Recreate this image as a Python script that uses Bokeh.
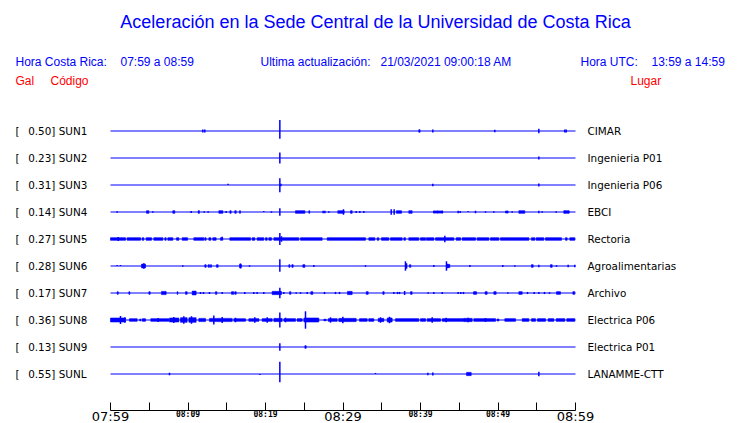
from bokeh.plotting import figure
from bokeh.models import Range1d, LinearAxis, FixedTicker
from bokeh.core.properties import value
from bokeh.embed import file_html
from bokeh.resources import INLINE

# ---------------- data ----------------
TITLE = "Aceleración en la Sede Central de la Universidad de Costa Rica"
codes = ["SUN1", "SUN2", "SUN3", "SUN4", "SUN5", "SUN6", "SUN7", "SUN8", "SUN9", "SUNL"]
gals = [0.50, 0.23, 0.31, 0.14, 0.27, 0.28, 0.17, 0.36, 0.13, 0.55]
places = ["CIMAR", "Ingenieria P01", "Ingenieria P06", "EBCI", "Rectoria",
          "Agroalimentarias", "Archivo", "Electrica P06", "Electrica P01", "LANAMME-CTT"]

window = [0, 60]  # minutes after 07:59
axis_ticks = [0, 5, 10, 15, 20, 25, 30, 35, 40, 45, 50, 55, 60]
big_tick_min = [0, 30, 60]
big_tick_lab = ["07:59", "08:29", "08:59"]
small_tick_min = [10, 20, 40, 50]
small_tick_lab = ["08:09", "08:19", "08:39", "08:49"]

# spikes: (minute, amplitude up, amplitude down) in trace units
spikes_SUN1 = [(11.91, .06, .06), (12.17, .06, .06), (21.85, .41, .285), (41.59, .06, .06),
               (49.59, .05, .05), (55.27, .085, .085), (58.62, .06, .06), (58.8, .06, .06)]
spikes_SUN2 = [(21.85, .2, .2), (55.27, .06, .06)]
spikes_SUN3 = [(15.18, .05, 0), (21.85, .25, .27), (21.98, .05, .05), (41.59, .05, .05), (55.27, .06, .06)]
spikes_SUN4 = [(0.86, .03, .03), (5.46, .03, .03), (10.41, .04, .04), (12.09, .03, .03), (12.60, .03, .03),
               (14.92, .04, .04), (19.78, .04, 0), (20.77, .03, .03), (21.85, .137, .137), (27.44, .05, .05),
               (27.66, .05, .05), (28.17, .03, .03), (30.06, .1, .1), (31.70, .04, .04), (32.17, .04, .04),
               (32.69, .04, .04), (36.22, .1, .1), (36.6, .1, .1), (41.72, .05, .05), (42.2, .05, .05),
               (42.8, .05, .05), (44.86, .05, .05), (45.12, .04, .04), (46.15, .04, 0), (47.10, .05, .05),
               (48.39, .03, .03), (49.46, .03, .03), (51.83, .03, .03), (55.27, .05, .05), (55.7, .03, .03),
               (57.51, .03, .03), (58.62, .05, .05), (59.14, .05, .05)]
spikes_SUN5 = [(1.0, .07, .07), (14.41, .08, 0), (21.85, .22, .22), (22.06, .1, .1), (43.14, .12, .12)]
spikes_SUN6 = [(0.86, .04, 0), (1.29, .04, 0), (4.3, .1, .1), (9.33, .03, .03), (16.77, .09, .09),
               (17.94, .03, .03), (21.85, .248, .21), (26.24, .04, .04), (32.90, .03, .03), (38.06, .174, .174),
               (38.2, .1, .1), (41.72, .04, .04), (43.35, .174, .174), (43.5, .08, .08), (46.37, .04, .04),
               (50.62, .04, .04), (52.17, .03, .03), (55.27, .05, .05), (57.55, .03, .03), (59.05, .05, .05),
               (59.91, .05, .05)]
spikes_SUN7 = [(11.61, .04, .04), (12.0, .04, .04), (12.77, .04, .04), (14.41, .04, .04), (17.33, .04, .04),
               (18.49, .04, .04), (18.92, .04, .04), (19.78, .04, .04), (21.85, .196, .196), (22.37, .04, .04),
               (23.96, .03, .03), (24.52, .03, .03), (25.38, .04, .04), (27.61, .04, .04), (29.03, .04, .04),
               (29.55, .04, .04), (36.56, .04, .04), (37.03, .04, .04), (37.29, .04, .04), (37.95, .074, .074),
               (40.99, .03, .03), (41.72, .04, .04), (42.80, .04, .04), (44.86, .04, .04), (45.20, .04, .04),
               (45.55, .04, .04), (51.27, .03, .03), (53.81, .04, .04), (54.67, .04, .04), (55.27, .04, .04),
               (56.0, .04, .04), (56.65, .03, .03)]
spikes_SUN8 = [(1.29, .148, .148), (1.85, .1, .1), (6.15, .074, .074), (8.17, .11, .11), (9.46, .137, .137),
               (10.45, .137, .137), (13.33, .17, .17), (14.41, .11, .11), (16.13, .085, .085), (18.62, .1, .1),
               (20.22, .1, .1), (21.85, .278, .278), (22.58, .085, .085), (25.16, .322, .322), (28.39, .1, .1),
               (29.98, .12, .12), (34.84, .1, .1), (36.0, .12, .12), (41.51, .1, .1), (43.31, .085, .085),
               (46.15, .085, .085), (48.39, .074, .074)]
spikes_SUN9 = [(21.85, .137, .137)]
spikes_SUNL = [(7.61, .05, .05), (19.27, 0, .04), (21.85, .456, .307), (34.19, .04, 0), (40.95, .05, .05),
               (41.59, .06, .06), (55.27, .085, .085)]

# bursts: (start minute, end minute, amplitude) in trace units
bursts_SUN1 = [(39.78, 39.95, .05)]
bursts_SUN2 = []
bursts_SUN3 = []
bursts_SUN4 = [(4.65, 4.95, .05), (8.04, 8.30, .05), (11.31, 11.48, .05), (13.98, 14.49, .05), (15.40, 15.57, .05),
               (16.04, 16.22, .05), (16.65, 16.77, .05), (23.87, 25.08, .05), (25.59, 25.7, .05), (29.33, 30.15, .05),
               (30.97, 31.18, .05), (36.9, 37.55, .05), (38.49, 38.92, .05), (41.72, 42.88, .04),
               (50.97, 51.31, .04), (52.69, 53.46, .05), (58.49, 59.14, .05)]
bursts_SUN5 = [(0, 1.94, .05), (2.15, 3.87, .05), (4.09, 4.30, .05), (4.6, 5.29, .05), (5.59, 6.75, .05),
               (7.01, 7.18, .05), (7.40, 8.04, .05), (8.52, 8.82, .05), (9.25, 9.94, .05), (10.75, 12.04, .05),
               (12.17, 12.34, .05), (12.69, 12.95, .05), (13.2, 13.63, .05), (14.19, 14.49, .05),
               (15.40, 18.06, .05), (18.28, 18.62, .05), (18.92, 19.78, .05), (20.0, 20.22, .05),
               (20.43, 20.77, .05), (21.08, 24.30, .05), (24.52, 27.31, .05), (27.96, 32.90, .05),
               (33.33, 34.11, .05), (34.41, 34.62, .05), (34.97, 35.91, .05), (36.13, 37.63, .05),
               (37.85, 38.06, .05), (38.49, 39.78, .05), (40.0, 40.65, .05), (40.77, 41.72, .05),
               (41.94, 44.30, .05), (44.60, 45.16, .05), (45.38, 47.10, .05), (47.31, 48.82, .05),
               (49.03, 50.11, .05), (50.32, 53.98, .05), (54.32, 54.75, .05), (54.92, 55.91, .05),
               (56.13, 58.19, .05), (58.71, 58.92, .05), (59.27, 59.91, .05)]
bursts_SUN6 = [(4.0, 4.52, .07), (12.17, 12.34, .05), (12.6, 12.77, .05), (12.9, 13.03, .05), (13.68, 13.89, .05),
               (16.65, 16.9, .06), (23.01, 23.15, .05), (23.4, 23.57, .05), (24.82, 25.08, .05),
               (38.58, 38.75, .05), (43.5, 43.78, .06), (54.32, 54.54, .05), (56.77, 56.99, .05)]
bursts_SUN7 = [(0.86, 1.0, .05), (2.37, 2.5, .05), (4.95, 5.12, .05), (6.58, 7.18, .06), (8.6, 8.7, .05),
               (9.68, 9.89, .05), (10.54, 11.05, .07), (13.55, 13.72, .05), (15.61, 15.9, .05), (16.04, 16.22, .05),
               (20.86, 22.06, .06), (23.1, 23.27, .05), (25.85, 26.11, .05), (30.58, 31.18, .06), (33.0, 33.25, .05),
               (35.14, 35.31, .05), (38.71, 38.92, .05), (46.84, 47.23, .05), (48.34, 48.6, .05),
               (49.46, 49.76, .05), (52.69, 53.12, .05), (57.55, 58.06, .05), (59.66, 59.91, .05)]
bursts_SUN8 = [(0, 1.94, .074), (2.45, 3.44, .05), (3.78, 3.9, .04), (4.09, 4.52, .05), (5.2, 7.53, .05),
               (7.61, 8.82, .074), (9.03, 9.89, .085), (10.11, 11.05, .085), (11.40, 12.26, .06),
               (12.77, 13.98, .06), (13.98, 15.70, .06), (15.91, 17.42, .05), (17.85, 19.14, .05),
               (19.57, 20.86, .05), (21.08, 22.15, .06), (22.37, 23.87, .05), (24.09, 24.73, .05),
               (24.95, 26.88, .074), (27.53, 27.83, .03), (28.09, 29.25, .05), (29.46, 31.70, .06),
               (32.13, 33.12, .05), (33.33, 33.98, .05), (34.54, 35.27, .06), (35.70, 36.34, .074),
               (36.77, 39.78, .05), (40.0, 40.65, .05), (40.86, 42.58, .05), (42.80, 45.59, .05),
               (45.59, 46.67, .06), (46.88, 49.68, .05), (49.89, 50.11, .04), (50.88, 52.26, .05),
               (53.12, 53.98, .05), (54.32, 54.84, .05), (55.10, 56.13, .05), (56.47, 57.20, .05),
               (57.51, 58.62, .05), (58.88, 59.91, .05)]
bursts_SUN9 = [(25.08, 25.25, .05)]
bursts_SUNL = [(45.94, 46.54, .06)]

spikes_all = [spikes_SUN1, spikes_SUN2, spikes_SUN3, spikes_SUN4, spikes_SUN5,
              spikes_SUN6, spikes_SUN7, spikes_SUN8, spikes_SUN9, spikes_SUNL]
bursts_all = [bursts_SUN1, bursts_SUN2, bursts_SUN3, bursts_SUN4, bursts_SUN5,
              bursts_SUN6, bursts_SUN7, bursts_SUN8, bursts_SUN9, bursts_SUNL]

# ---------------- layout (page pixels) ----------------
W, H = 740, 423
PX_PER_MIN = 7.75
X0_PAGE = 110.0
ROW0_PAGE = 130.5
ROW_PX = 27.0
AXIS_PAGE_Y = 409.5


def mx(page_x):
    return (page_x - X0_PAGE) / PX_PER_MIN


def ry(page_y):
    return (page_y - ROW0_PAGE) / ROW_PX


BLUE = "#0000ff"
RED = "#ff0000"

p = figure(width=W, height=H, output_backend="svg", toolbar_location=None, title=None,
           x_axis_type=None, y_axis_type=None, min_border=0,
           x_range=Range1d(mx(0), mx(W)),
           y_range=Range1d(ry(H), ry(0)))
p.outline_line_color = None
p.background_fill_color = "white"
p.border_fill_color = "white"

rows = list(range(len(codes)))

# baselines
p.segment(x0=[window[0]] * len(rows), x1=[window[1]] * len(rows), y0=rows, y1=rows,
          line_color=BLUE, line_width=1.1)

# spikes and bursts
sx, sy0, sy1 = [], [], []
ql, qr, qt, qb = [], [], [], []
for r, (sp, bu) in enumerate(zip(spikes_all, bursts_all)):
    for t, up, dn in sp:
        sx.append(t); sy0.append(r - up); sy1.append(r + dn)
    for t0, t1, a in bu:
        ql.append(t0); qr.append(t1); qt.append(r - a); qb.append(r + a)
p.quad(left=ql, right=qr, top=qt, bottom=qb, fill_color=BLUE, line_color=BLUE, line_width=0.6)
p.segment(x0=sx, x1=sx, y0=sy0, y1=sy1, line_color=BLUE, line_width=1.5)

# title and header (y = visual middle of the capitals)
p.text(x=[mx(375)], y=[ry(21.5)], text=[TITLE], text_font=value("Liberation Sans"),
       text_font_size="18px", text_color=BLUE, text_align="center", text_baseline="middle")
hdr_x = [15, 120, 260, 380, 580, 651]
hdr_t = ["Hora Costa Rica:", "07:59 a 08:59", "Ultima actualización:", "21/03/2021 09:00:18 AM",
         "Hora UTC:", "13:59 a 14:59"]
p.text(x=[mx(v) for v in hdr_x], y=[ry(61)] * len(hdr_x), text=hdr_t,
       text_font=value("Liberation Sans"), text_font_size="12px", text_color=BLUE,
       text_align="left", text_baseline="middle")
red_x = [15, 50, 630]
red_t = ["Gal", "Código", "Lugar"]
p.text(x=[mx(v) for v in red_x], y=[ry(80.5)] * 3, text=red_t,
       text_font=value("Liberation Sans"), text_font_size="12px", text_color=RED,
       text_align="left", text_baseline="middle")

# station labels
lab_y = [r + 0.2 / ROW_PX for r in rows]
p.text(x=[mx(15)] * len(rows), y=lab_y, text=["["] * len(rows),
       text_font=value("DejaVu Sans"), text_font_size="10.4px", text_color="black",
       text_align="left", text_baseline="middle")
p.text(x=[mx(27.7)] * len(rows), y=lab_y, text=[f"{g:.2f}] {c}" for g, c in zip(gals, codes)],
       text_font=value("DejaVu Sans"), text_font_size="10.4px", text_color="black",
       text_align="left", text_baseline="middle")
p.text(x=[mx(587)] * len(rows), y=lab_y, text=places,
       text_font=value("DejaVu Sans"), text_font_size="10.4px", text_color="black",
       text_align="left", text_baseline="middle")

# time axis, drawn inside the frame at a fixed data location
ax = LinearAxis(ticker=FixedTicker(ticks=axis_ticks, minor_ticks=[]), bounds=(window[0], window[1]),
                fixed_location=ry(AXIS_PAGE_Y))
ax.major_tick_in = 8
ax.major_tick_out = 0
ax.minor_tick_in = 0
ax.minor_tick_out = 0
ax.axis_line_color = "black"
ax.major_tick_line_color = "black"
ax.major_label_text_font_size = "0px"
ax.major_label_standoff = 0
ax.major_label_overrides = {t: "" for t in axis_ticks}
p.add_layout(ax, "below")

p.text(x=big_tick_min, y=[ry(416)] * len(big_tick_min), text=big_tick_lab,
       text_font=value("DejaVu Sans"), text_font_size="13px", text_color="black",
       text_align="center", text_baseline="middle")
p.text(x=small_tick_min, y=[ry(414.2)] * len(small_tick_min), text=small_tick_lab,
       text_font=value("DejaVu Sans Mono"), text_font_size="8px", text_font_style="bold",
       text_color="black", text_align="center", text_baseline="middle")

open("out.html", "w").write(file_html(p, INLINE))
